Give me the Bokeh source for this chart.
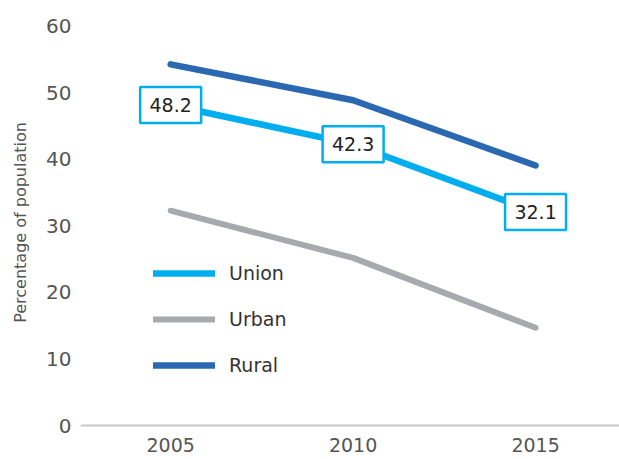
from bokeh.plotting import figure
from bokeh.models import Range1d, FixedTicker, Legend, LegendItem, ColumnDataSource, Span
from bokeh.core.properties import value
from bokeh.embed import file_html
from bokeh.resources import INLINE

years = [2005, 2010, 2015]
year_labels = ["2005", "2010", "2015"]
union = [48.2, 42.3, 32.1]
urban = [32.3, 25.2, 14.7]
rural = [54.3, 48.9, 39.1]
y_ticks = [0, 10, 20, 30, 40, 50, 60]

FONT = "DejaVu Sans"
C_UNION = "#00aeef"
C_URBAN = "#a7a9ac"
C_RURAL = "#2a68b2"

p = figure(width=619, height=459, output_backend="svg", toolbar_location=None,
           x_range=Range1d(2002.53, 2017.30), y_range=Range1d(-0.45, 61.5),
           min_border_left=80, min_border_right=0, min_border_top=16, min_border_bottom=31)
p.outline_line_color = None
p.grid.grid_line_color = None
p.background_fill_color = None
p.border_fill_color = "white"

# zero baseline
p.add_layout(Span(location=0, dimension="width", line_color="#c8c8c8", line_width=2))

# x axis
p.xaxis.ticker = FixedTicker(ticks=years)
p.xaxis.major_label_overrides = {y: l for y, l in zip(years, year_labels)}
p.xaxis.axis_label = None
p.xaxis.axis_label_standoff = 0
p.xaxis.axis_line_color = None
p.xaxis.major_tick_line_color = None
p.xaxis.minor_tick_line_color = None
p.xaxis.major_tick_out = 0
p.xaxis.minor_tick_out = 0
p.xaxis.major_label_standoff = 9
p.xaxis.major_label_text_font = FONT
p.xaxis.major_label_text_font_size = "19px"
p.xaxis.major_label_text_color = "#555555"

# y axis
p.yaxis.ticker = FixedTicker(ticks=y_ticks)
p.yaxis.axis_line_color = None
p.yaxis.major_tick_line_color = None
p.yaxis.minor_tick_line_color = None
p.yaxis.major_tick_out = 0
p.yaxis.minor_tick_out = 0
p.yaxis.major_label_standoff = 9
p.yaxis.major_label_text_font = FONT
p.yaxis.major_label_text_font_size = "20px"
p.yaxis.major_label_text_color = "#555555"
p.yaxis.axis_label = "Percentage of population"
p.yaxis.axis_label_text_font = FONT
p.yaxis.axis_label_text_font_style = "normal"
p.yaxis.axis_label_text_font_size = "16px"
p.yaxis.axis_label_text_color = "#555555"
p.yaxis.axis_label_standoff = 13

src = ColumnDataSource(dict(x=years, union=union, urban=urban, rural=rural,
                            lab=[f"{v:.1f}" for v in union]))

r_union = p.line("x", "union", source=src, line_color=C_UNION, line_width=6.5,
                 line_cap="round", line_join="round")
r_urban = p.line("x", "urban", source=src, line_color=C_URBAN, line_width=6,
                 line_cap="round", line_join="round")
r_rural = p.line("x", "rural", source=src, line_color=C_RURAL, line_width=6.5,
                 line_cap="round", line_join="round")

# value boxes on Union line
p.rect("x", "union", source=src, width=61, height=36, width_units="screen",
       height_units="screen", fill_color="white", line_color=C_UNION, line_width=2.5)
p.text("x", "union", text="lab", source=src, text_align="center", text_baseline="middle",
       text_font=value(FONT), text_font_size="19px", text_color="#222222")

legend = Legend(items=[LegendItem(label="Union", renderers=[r_union]),
                       LegendItem(label="Urban", renderers=[r_urban]),
                       LegendItem(label="Rural", renderers=[r_rural])],
                location=(73, 52), orientation="vertical")
legend.background_fill_alpha = 0
legend.border_line_color = None
legend.padding = 0
legend.margin = 0
legend.glyph_width = 62
legend.glyph_height = 20
legend.label_height = 20
legend.spacing = 24
legend.label_standoff = 14
legend.label_text_font = FONT
legend.label_text_font_size = "19px"
legend.label_text_color = "#333333"
p.add_layout(legend, "center")

open("out.html", "w").write(file_html(p, INLINE))
